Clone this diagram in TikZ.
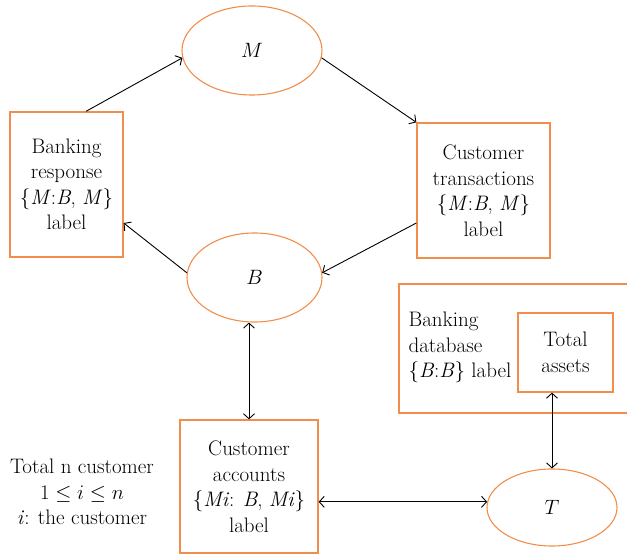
\documentclass[tikz,border=0pt]{standalone}
\usepackage{tikz}
\usepackage{amsmath, amssymb}
\usetikzlibrary{shapes}
\usetikzlibrary{arrows.meta}
\definecolor{boxorange}{RGB}{242,142,76}
\tikzset{
  state/.style={ellipse, draw=boxorange, line width=1.1pt, inner sep=0pt},
  tagbox/.style={rectangle, draw=boxorange, line width=1.3pt, inner sep=0pt, align=center},
  link/.style={line width=0.9pt, >={Straight Barb[length=5pt,width=11pt,line width=0.9pt]}}
}
\begin{document}
\begin{tikzpicture}[x=1pt,y=-1pt,font=\fontsize{21}{25.5}\selectfont]
\useasboundingbox (0,0) rectangle (627,556);
% the three ellipses
\node[state, minimum width=140pt, minimum height=89pt] (M) at (252,50.5) {$M$};
\node[state, minimum width=135pt, minimum height=89pt] (B) at (254.5,277.5) {$B$};
\node[state, minimum width=130pt, minimum height=77pt] (T) at (552,507.5) {$T$};
% label boxes
\node[tagbox, minimum width=113pt, minimum height=145pt] (resp) at (66.5,184.5)
  {Banking\\response\\\{\textit{M}:\textit{B}, \textit{M}\}\\label};
\node[tagbox, minimum width=133pt, minimum height=135pt] (trans) at (483.5,190.5)
  {Customer\\transactions\\\{\textit{M}:\textit{B}, \textit{M}\}\\label};
\node[tagbox, minimum width=138pt, minimum height=133pt] (accts) at (249,486.5)
  {Customer\\accounts\\\{\textit{Mi}: \textit{B}, \textit{Mi}\}\\label};
\node[tagbox, minimum width=261pt, minimum height=129pt] (db) at (529.5,348.5) {};
\node[anchor=west, align=left] (dbtext) at (405,347.5)
  {Banking\\database\\\{\textit{B}:\textit{B}\} label};
\node[tagbox, minimum width=95pt, minimum height=79pt] (assets) at (565.5,352.5) {Total\\assets};
\node[align=center] (note) at (82,492)
  {Total n customer\\$1 \leq i \leq n$\\\textit{i}: the customer};
% connectors
\draw[link,->] ([xshift=19.5pt]resp.north) -- (M.186);
\draw[link,->] (M.354) -- (trans.north west);
\draw[link,->] ([yshift=-32.5pt]trans.west) -- (B.4);
\draw[link,->] (B.176) -- ([yshift=-38.5pt]resp.east);
\draw[link,<->] (accts.north |- B.south) -- (accts.north);
\draw[link,<->] (accts.east |- T.175) -- (T.175);
\draw[link,<->] (assets.south -| T.north) -- (T.north);
\end{tikzpicture}
\end{document}
